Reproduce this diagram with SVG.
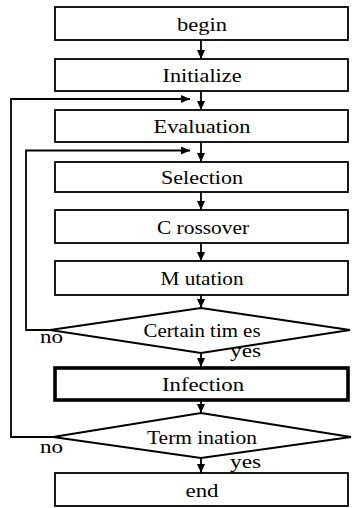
<svg xmlns="http://www.w3.org/2000/svg" width="354" height="508" viewBox="0 0 354 508">
  <style>
    .box { fill: #ffffff; stroke: #000000; stroke-width: 1.8; }
    .thick { stroke-width: 3.6; }
    .lbl { font-family: "Liberation Serif", "Times New Roman", serif; font-size: 18px; fill: #000000; text-anchor: middle; }
    .side { font-family: "Liberation Serif", "Times New Roman", serif; font-size: 18px; fill: #000000; }
    .wire { fill: none; stroke: #000000; stroke-width: 1.8; }
    .arrow { marker-end: url(#head); }
  </style>
  <defs>
    <marker id="head" viewBox="0 0 9 8" refX="9" refY="4" markerWidth="9" markerHeight="8" markerUnits="userSpaceOnUse" orient="auto">
      <path d="M0,0 L9,4 L0,8 z" fill="#000000"/>
    </marker>
  </defs>
  <rect width="354" height="508" fill="#ffffff"/>

  <!-- flow connectors -->
  <g id="connectors">
    <line class="wire arrow" x1="201" y1="40" x2="201" y2="59"/>
    <line class="wire arrow" x1="201" y1="91" x2="201" y2="110"/>
    <line class="wire arrow" x1="201" y1="142" x2="201" y2="162"/>
    <line class="wire arrow" x1="201" y1="192" x2="201" y2="210"/>
    <line class="wire arrow" x1="201" y1="243" x2="201" y2="261"/>
    <line class="wire arrow" x1="201" y1="295" x2="201" y2="308"/>
    <line class="wire arrow" x1="201" y1="353" x2="201" y2="367"/>
    <line class="wire arrow" x1="201" y1="401" x2="201" y2="413"/>
    <line class="wire arrow" x1="201" y1="458" x2="201" y2="473"/>
    <!-- inner loop: back to Selection -->
    <polyline class="wire arrow" points="50,330 26,330 26,150.5 190,150.5"/>
    <!-- outer loop: back to Evaluation -->
    <polyline class="wire arrow" points="53,437 11,437 11,99 190,99"/>
  </g>

  <g id="begin">
    <rect class="box" x="55" y="7" width="293" height="33"/>
    <text class="lbl" x="202" y="31" textLength="50" lengthAdjust="spacingAndGlyphs">begin</text>
  </g>
  <g id="initialize">
    <rect class="box" x="55" y="59" width="293" height="32"/>
    <text class="lbl" x="202" y="82" textLength="79" lengthAdjust="spacingAndGlyphs">Initialize</text>
  </g>
  <g id="evaluation">
    <rect class="box" x="55" y="110" width="293" height="32"/>
    <text class="lbl" x="202" y="133" textLength="97" lengthAdjust="spacingAndGlyphs">Evaluation</text>
  </g>
  <g id="selection">
    <rect class="box" x="55" y="162" width="293" height="30"/>
    <text class="lbl" x="202" y="184" textLength="82" lengthAdjust="spacingAndGlyphs">Selection</text>
  </g>
  <g id="crossover">
    <rect class="box" x="55" y="210" width="293" height="33"/>
    <text class="lbl" x="203" y="234" textLength="92" lengthAdjust="spacingAndGlyphs">C rossover</text>
  </g>
  <g id="mutation">
    <rect class="box" x="55" y="261" width="293" height="34"/>
    <text class="lbl" x="202" y="285" textLength="83" lengthAdjust="spacingAndGlyphs">M utation</text>
  </g>
  <g id="certain-times">
    <polygon class="box" points="201,308 350,330 201,353 50,330"/>
    <text class="lbl" x="202" y="337" textLength="117" lengthAdjust="spacingAndGlyphs">Certain tim es</text>
    <text class="side" x="40" y="343" textLength="23" lengthAdjust="spacingAndGlyphs">no</text>
    <text class="side" x="230" y="357" textLength="31" lengthAdjust="spacingAndGlyphs">yes</text>
  </g>
  <g id="infection">
    <rect class="box thick" x="55" y="368" width="293" height="32"/>
    <text class="lbl" x="203" y="391" textLength="82" lengthAdjust="spacingAndGlyphs">Infection</text>
  </g>
  <g id="termination">
    <polygon class="box" points="201,413 351,437 201,458 53,437"/>
    <text class="lbl" x="202" y="444" textLength="110" lengthAdjust="spacingAndGlyphs">Term ination</text>
    <text class="side" x="40" y="453" textLength="23" lengthAdjust="spacingAndGlyphs">no</text>
    <text class="side" x="230" y="468" textLength="31" lengthAdjust="spacingAndGlyphs">yes</text>
  </g>
  <g id="end">
    <rect class="box" x="55" y="473" width="293" height="33"/>
    <text class="lbl" x="202" y="497" textLength="33" lengthAdjust="spacingAndGlyphs">end</text>
  </g>
</svg>
